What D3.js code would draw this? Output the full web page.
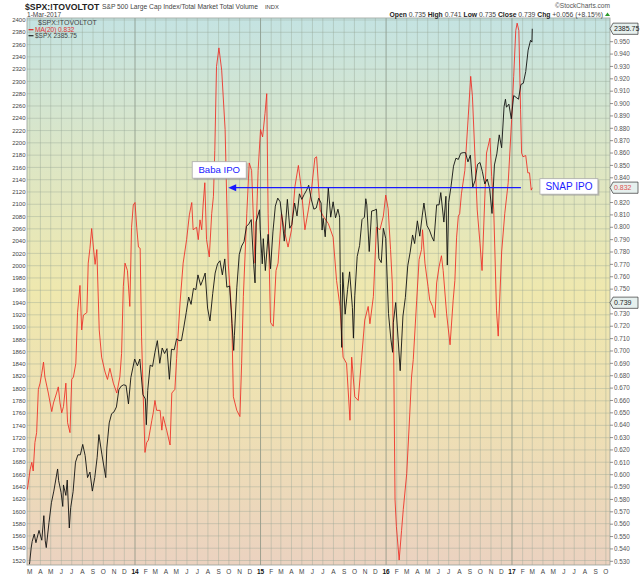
<!DOCTYPE html>
<meta charset="utf-8">
<head>
<script src="https://cdnjs.cloudflare.com/ajax/libs/d3/7.8.5/d3.min.js"></script>
<style>
body { margin:0; background:#fff; }
svg text { font-family: "Liberation Sans", Arial, sans-serif; }
</style>
</head>
<body>
<div id="chart"></div>
<script>

// S&P 500 closes (left scale), roughly weekly
var spx = [
["2013-02-28",1514],["2013-03-01",1518],["2013-03-05",1540],["2013-03-08",1551],["2013-03-14",1563],["2013-03-19",1549],
["2013-03-22",1556],["2013-03-28",1569],["2013-04-05",1553],["2013-04-11",1593],["2013-04-15",1552],["2013-04-18",1541],
["2013-04-26",1582],["2013-05-03",1614],["2013-05-10",1633],["2013-05-21",1669],["2013-05-24",1650],["2013-05-31",1631],
["2013-06-05",1608],["2013-06-07",1643],["2013-06-14",1626],["2013-06-18",1651],["2013-06-24",1573],["2013-06-28",1606],
["2013-07-05",1632],["2013-07-12",1680],["2013-07-19",1692],["2013-07-26",1692],["2013-08-02",1709],["2013-08-09",1691],
["2013-08-16",1655],["2013-08-23",1664],["2013-08-30",1633],["2013-09-06",1655],["2013-09-13",1688],["2013-09-18",1725],
["2013-09-27",1692],["2013-10-08",1655],["2013-10-11",1703],["2013-10-18",1744],["2013-10-25",1759],["2013-11-01",1762],
["2013-11-08",1770],["2013-11-15",1798],["2013-11-22",1804],["2013-11-29",1806],["2013-12-06",1805],["2013-12-13",1775],
["2013-12-20",1818],["2013-12-31",1848],
["2014-01-08",1837],["2014-01-15",1848],["2014-01-24",1790],["2014-01-31",1783],["2014-02-03",1741],["2014-02-07",1797],
["2014-02-14",1838],["2014-02-21",1836],["2014-02-28",1859],["2014-03-07",1878],["2014-03-14",1841],["2014-03-21",1866],
["2014-03-28",1857],["2014-04-04",1865],["2014-04-11",1815],["2014-04-17",1864],["2014-04-25",1863],["2014-05-02",1881],
["2014-05-09",1878],["2014-05-16",1878],["2014-05-23",1900],["2014-05-30",1924],["2014-06-06",1949],["2014-06-13",1937],
["2014-06-20",1963],["2014-06-27",1961],["2014-07-03",1985],["2014-07-11",1968],["2014-07-18",1978],["2014-07-24",1988],
["2014-07-31",1931],["2014-08-07",1910],["2014-08-15",1955],["2014-08-22",1988],["2014-08-29",2003],["2014-09-05",2008],
["2014-09-12",1985],["2014-09-19",2011],["2014-09-25",1965],["2014-10-03",1967],["2014-10-10",1906],["2014-10-15",1862],
["2014-10-17",1886],["2014-10-24",1964],["2014-10-31",2018],["2014-11-07",2032],["2014-11-14",2039],["2014-11-21",2064],
["2014-11-28",2068],["2014-12-05",2075],["2014-12-12",2002],["2014-12-16",1972],["2014-12-19",2071],["2014-12-29",2091],
["2014-12-31",2059],
["2015-01-06",2003],["2015-01-09",2044],["2015-01-15",1992],["2015-01-23",2051],["2015-01-30",1995],["2015-02-06",2055],
["2015-02-13",2097],["2015-02-20",2110],["2015-02-27",2104],["2015-03-06",2071],["2015-03-11",2040],["2015-03-13",2053],
["2015-03-20",2108],["2015-03-27",2061],["2015-04-02",2067],["2015-04-10",2102],["2015-04-17",2081],["2015-04-24",2117],
["2015-05-01",2108],["2015-05-08",2116],["2015-05-15",2123],["2015-05-21",2131],["2015-05-29",2107],["2015-06-05",2092],
["2015-06-12",2094],["2015-06-19",2110],["2015-06-26",2102],["2015-06-29",2058],["2015-07-02",2077],["2015-07-08",2047],
["2015-07-17",2127],["2015-07-24",2079],["2015-07-31",2104],["2015-08-07",2078],["2015-08-14",2092],["2015-08-19",2079],
["2015-08-21",1971],["2015-08-25",1867],["2015-08-28",1989],["2015-09-04",1921],["2015-09-11",1961],["2015-09-17",1990],
["2015-09-25",1932],["2015-09-28",1882],["2015-10-02",1951],["2015-10-09",2015],["2015-10-16",2033],["2015-10-23",2075],
["2015-10-30",2079],["2015-11-03",2109],["2015-11-06",2099],["2015-11-13",2023],["2015-11-20",2089],["2015-11-27",2090],
["2015-12-04",2092],["2015-12-11",2012],["2015-12-18",2005],["2015-12-24",2061],["2015-12-31",2044],
["2016-01-08",1922],["2016-01-15",1880],["2016-01-20",1859],["2016-01-22",1907],["2016-01-29",1940],["2016-02-05",1880],
["2016-02-11",1829],["2016-02-19",1918],["2016-02-26",1948],["2016-03-04",2000],["2016-03-11",2022],["2016-03-18",2050],
["2016-03-24",2036],["2016-04-01",2073],["2016-04-08",2048],["2016-04-15",2081],["2016-04-20",2102],["2016-04-29",2065],
["2016-05-06",2058],["2016-05-13",2047],["2016-05-19",2040],["2016-05-27",2099],["2016-06-03",2099],["2016-06-08",2119],
["2016-06-17",2071],["2016-06-23",2113],["2016-06-27",2001],["2016-07-01",2103],["2016-07-08",2130],["2016-07-15",2162],
["2016-07-22",2175],["2016-07-29",2173],["2016-08-05",2183],["2016-08-12",2184],["2016-08-19",2184],["2016-08-26",2169],
["2016-09-02",2180],["2016-09-09",2128],["2016-09-16",2139],["2016-09-23",2165],["2016-09-30",2168],["2016-10-07",2153],
["2016-10-14",2133],["2016-10-21",2141],["2016-10-28",2126],["2016-11-04",2085],["2016-11-11",2164],["2016-11-18",2182],
["2016-11-25",2213],["2016-12-02",2192],["2016-12-09",2259],["2016-12-13",2271],["2016-12-16",2258],["2016-12-23",2263],
["2016-12-30",2239],
["2017-01-06",2277],["2017-01-13",2274],["2017-01-20",2271],["2017-01-27",2295],["2017-02-03",2297],["2017-02-10",2316],
["2017-02-17",2351],["2017-02-24",2367],["2017-02-28",2364],["2017-03-01",2385.75]
];

// MA(20) of $SPX:!TOVOLTOT (right scale)
var ma20 = [
["2013-02-22",0.588],["2013-03-02",0.604],["2013-03-07",0.610],["2013-03-11",0.603],["2013-03-16",0.626],["2013-03-21",0.634],
["2013-03-26",0.669],["2013-03-31",0.674],["2013-04-05",0.682],["2013-04-10",0.691],["2013-04-14",0.679],["2013-04-24",0.666],
["2013-05-04",0.651],["2013-05-09",0.658],["2013-05-18",0.666],["2013-05-23",0.671],["2013-05-28",0.658],["2013-06-02",0.650],
["2013-06-07",0.655],["2013-06-14",0.674],["2013-06-19",0.642],["2013-06-26",0.634],["2013-07-01",0.677],["2013-07-06",0.679],
["2013-07-13",0.690],["2013-07-18",0.731],["2013-07-25",0.753],["2013-07-30",0.717],["2013-08-04",0.729],["2013-08-14",0.731],
["2013-08-18",0.771],["2013-08-23",0.783],["2013-08-28",0.799],["2013-09-02",0.784],["2013-09-07",0.770],["2013-09-12",0.782],
["2013-09-19",0.717],["2013-09-26",0.695],["2013-10-06",0.683],["2013-10-13",0.677],["2013-10-20",0.686],["2013-10-30",0.674],
["2013-11-09",0.666],["2013-11-18",0.679],["2013-11-23",0.698],["2013-11-28",0.752],["2013-12-03",0.771],["2013-12-10",0.765],
["2013-12-17",0.736],["2013-12-22",0.800],["2013-12-27",0.818],["2014-01-01",0.820],["2014-01-06",0.800],["2014-01-11",0.784],
["2014-01-16",0.783],["2014-01-20",0.712],["2014-01-25",0.663],["2014-01-30",0.618],["2014-02-04",0.626],["2014-02-09",0.628],
["2014-02-14",0.636],["2014-02-19",0.644],["2014-02-23",0.650],["2014-02-28",0.660],["2014-03-05",0.652],["2014-03-15",0.652],
["2014-03-20",0.636],["2014-03-24",0.647],["2014-04-03",0.636],["2014-04-13",0.624],["2014-04-18",0.666],["2014-04-27",0.669],
["2014-05-02",0.694],["2014-05-12",0.739],["2014-05-21",0.771],["2014-05-31",0.790],["2014-06-08",0.810],["2014-06-15",0.820],
["2014-06-19",0.798],["2014-06-29",0.800],["2014-07-04",0.790],["2014-07-09",0.806],["2014-07-14",0.798],["2014-07-18",0.818],
["2014-07-23",0.836],["2014-07-28",0.790],["2014-08-05",0.776],["2014-08-12",0.811],["2014-08-17",0.825],["2014-08-21",0.862],
["2014-08-26",0.930],["2014-09-02",0.945],["2014-09-10",0.927],["2014-09-20",0.879],["2014-09-29",0.771],["2014-10-09",0.731],
["2014-10-14",0.663],["2014-10-24",0.652],["2014-11-02",0.647],["2014-11-07",0.690],["2014-11-12",0.744],["2014-11-22",0.811],
["2014-11-29",0.852],["2014-12-06",0.846],["2014-12-16",0.771],["2014-12-25",0.846],["2015-01-01",0.879],["2015-01-07",0.873],
["2015-01-14",0.892],["2015-01-19",0.908],["2015-01-23",0.811],["2015-01-30",0.723],["2015-02-07",0.720],["2015-02-15",0.765],
["2015-02-21",0.771],["2015-03-03",0.811],["2015-03-13",0.795],["2015-03-22",0.784],["2015-04-01",0.798],["2015-04-11",0.833],
["2015-04-21",0.850],["2015-04-30",0.830],["2015-05-10",0.798],["2015-05-20",0.814],["2015-05-29",0.830],["2015-06-08",0.856],
["2015-06-13",0.857],["2015-06-23",0.814],["2015-07-02",0.809],["2015-07-17",0.803],["2015-07-31",0.792],["2015-08-10",0.757],
["2015-08-20",0.736],["2015-08-29",0.695],["2015-09-08",0.690],["2015-09-18",0.644],["2015-09-23",0.695],["2015-10-02",0.663],
["2015-10-12",0.660],["2015-10-22",0.695],["2015-10-31",0.725],["2015-11-10",0.736],["2015-11-15",0.722],["2015-11-25",0.744],
["2015-12-04",0.800],["2015-12-14",0.798],["2015-12-24",0.809],["2015-12-31",0.826],["2016-01-07",0.815],["2016-01-14",0.782],
["2016-01-19",0.755],["2016-01-23",0.701],["2016-01-27",0.580],["2016-01-31",0.558],["2016-02-08",0.531],["2016-02-15",0.555],
["2016-02-20",0.572],["2016-03-01",0.601],["2016-03-10",0.650],["2016-03-15",0.679],["2016-03-20",0.693],["2016-03-30",0.741],
["2016-04-06",0.774],["2016-04-13",0.782],["2016-04-16",0.798],["2016-04-23",0.771],["2016-05-02",0.752],["2016-05-07",0.741],
["2016-05-15",0.736],["2016-05-22",0.727],["2016-05-27",0.755],["2016-06-03",0.768],["2016-06-10",0.777],["2016-06-15",0.765],
["2016-06-25",0.730],["2016-07-05",0.705],["2016-07-14",0.741],["2016-07-19",0.757],["2016-07-24",0.792],["2016-07-29",0.809],
["2016-08-02",0.811],["2016-08-07",0.827],["2016-08-17",0.846],["2016-08-27",0.890],["2016-09-03",0.922],["2016-09-08",0.906],
["2016-09-15",0.860],["2016-09-22",0.814],["2016-09-30",0.787],["2016-10-06",0.765],["2016-10-12",0.809],["2016-10-19",0.860],
["2016-10-29",0.872],["2016-11-03",0.841],["2016-11-09",0.814],["2016-11-17",0.733],["2016-11-22",0.712],["2016-12-02",0.780],
["2016-12-11",0.811],["2016-12-21",0.836],["2016-12-31",0.887],["2017-01-06",0.922],["2017-01-12",0.959],["2017-01-16",0.965],
["2017-01-21",0.959],["2017-01-26",0.895],["2017-01-29",0.860],["2017-02-02",0.857],["2017-02-10",0.858],["2017-02-16",0.844],
["2017-02-21",0.844],["2017-02-26",0.830],["2017-03-01",0.832]
];

var leftTicks = d3.range(1520, 2401, 20);
var rightTicks = d3.range(53, 97).map(function(d){ return d/100; });
var monthLetters = ['J','F','M','A','M','J','J','A','S','O','N','D'];
var ohlc = [["Open","0.735"],["High","0.741"],["Low","0.735"],["Close","0.739"],["Chg","+0.056 (+8.15%)"]];
var lastSpx = 2385.75, lastMa = 0.832, lastRatio = 0.739;
var arrowFrom = "2017-01-27", arrowTo = "2014-09-29";

var width = 640, height = 576;
var pL = 27, pR = 610, pT = 18, pB = 565;
var parse = d3.timeParse("%Y-%m-%d");

var x = d3.scaleTime().domain([new Date(2013,1,21), new Date(2017,9,13)]).range([pL, pR]);
var yL = d3.scaleLinear().domain([1520, 2400]).range([560.5, 20]);
var yR = d3.scaleLinear().domain([0.53, 0.95]).range([561.3, 41.7]);

var svg = d3.select('#chart').append('svg').attr('width', width).attr('height', height);
var defs = svg.append('defs');

var grad = defs.append('linearGradient').attr('id','bg')
  .attr('x1',0).attr('y1',0).attr('x2',0).attr('y2',1);
grad.append('stop').attr('offset','0%').attr('stop-color','#c4e3e2');
grad.append('stop').attr('offset','25%').attr('stop-color','#dce6c6');
grad.append('stop').attr('offset','50%').attr('stop-color','#efe8ae');
grad.append('stop').attr('offset','75%').attr('stop-color','#eedfb4');
grad.append('stop').attr('offset','100%').attr('stop-color','#ebd2c0');

defs.append('clipPath').attr('id','clip').append('rect')
  .attr('x',pL).attr('y',pT).attr('width',pR-pL).attr('height',pB-pT);

svg.append('rect').attr('x',pL).attr('y',pT).attr('width',pR-pL).attr('height',pB-pT)
  .style('fill','url(#bg)');

// grid
var months = d3.timeMonth.range(new Date(2013,2,1), new Date(2017,9,2));
svg.append('g').selectAll('line').data(months).enter().append('line')
  .attr('x1', function(d){ return x(d); }).attr('x2', function(d){ return x(d); })
  .attr('y1', pT).attr('y2', pB)
  .style('stroke', function(d){ return d.getMonth() === 0 ? '#7d8a7a' : '#93a293'; })
  .style('stroke-opacity', function(d){ return d.getMonth() === 0 ? 0.7 : 0.38; })
  .style('stroke-width', 1);

svg.append('g').selectAll('line').data(leftTicks).enter().append('line')
  .attr('x1', pL).attr('x2', pR)
  .attr('y1', function(d){ return yL(d); }).attr('y2', function(d){ return yL(d); })
  .style('stroke', '#93a293').style('stroke-opacity', 0.38);

svg.append('rect').attr('x',pL).attr('y',pT).attr('width',pR-pL).attr('height',pB-pT)
  .style('fill','none').style('stroke','#9aa09a').style('stroke-width',0.8);

// series
var redLine = d3.line().x(function(d){ return x(parse(d[0])); }).y(function(d){ return yR(d[1]); });
var blackLine = d3.line().x(function(d){ return x(parse(d[0])); }).y(function(d){ return yL(d[1]); });

svg.append('path').datum(ma20).attr('d', redLine).attr('clip-path','url(#clip)')
  .style('fill','none').style('stroke','#ee2a22').style('stroke-width',0.85);
svg.append('path').datum(spx).attr('d', blackLine).attr('clip-path','url(#clip)')
  .style('fill','none').style('stroke','#111').style('stroke-width',0.9);

// left axis labels
svg.append('g').selectAll('text').data(leftTicks).enter().append('text')
  .attr('x', 25.5).attr('y', function(d){ return yL(d) + 2.2; })
  .attr('text-anchor','end').style('font-size','6px').style('fill','#444')
  .text(function(d){ return d; });

// right tag boxes
var tags = [
  {y: yL(lastSpx), text: d3.format('.2f')(lastSpx), color: '#222'},
  {y: yR(lastMa), text: d3.format('.3f')(lastMa), color: '#e05050'},
  {y: yR(lastRatio), text: d3.format('.3f')(lastRatio), color: '#222'}
];

svg.append('g').selectAll('g').data(rightTicks.filter(function(t){
    return tags.every(function(g){ return Math.abs(yR(t) - g.y) > 7; }) && t <= 0.95;
  })).enter().append('g').each(function(d){
    var g = d3.select(this);
    g.append('line').attr('x1', pR).attr('x2', pR+3).attr('y1', yR(d)).attr('y2', yR(d))
      .style('stroke','#666').style('stroke-width',0.7);
    g.append('text').attr('x', pR+4).attr('y', yR(d)+2.2)
      .style('font-size','6.3px').style('fill','#555').text(d3.format('.3f')(d));
  });

tags.forEach(function(t){
  var h = 5.6;
  svg.append('path')
    .attr('d', 'M'+pR+','+t.y+' L'+(pR+3)+','+(t.y-h)+' L638,'+(t.y-h)+' L638,'+(t.y+h)+' L'+(pR+3)+','+(t.y+h)+' Z')
    .style('fill','#e6f0ee').style('stroke','#333').style('stroke-width',0.7);
  svg.append('text').attr('x', pR+4).attr('y', t.y+2.4)
    .style('font-size','7px').style('fill', t.color).text(t.text);
});

// x axis labels
svg.append('g').selectAll('text').data(months).enter().append('text')
  .attr('x', function(d){ return x(d); }).attr('y', 574)
  .attr('text-anchor','middle')
  .style('font-size', '6.5px')
  .style('font-weight', function(d){ return d.getMonth() === 0 ? 'bold' : 'normal'; })
  .style('fill', function(d){ return d.getMonth() === 0 ? '#111' : '#444'; })
  .text(function(d){ return d.getMonth() === 0 ? d3.timeFormat('%y')(d) : monthLetters[d.getMonth()]; });

// header
svg.append('text').attr('x', 25).attr('y', 9.5).style('font-size','8.7px').style('font-weight','bold')
  .style('fill','#222').text('$SPX:!TOVOLTOT');
svg.append('text').attr('x', 102).attr('y', 9.2).style('font-size','6.7px').style('fill','#444')
  .text('S&P 500 Large Cap Index/Total Market Total Volume');
svg.append('text').attr('x', 265).attr('y', 9.2).style('font-size','5.8px').style('fill','#444').text('INDX');
svg.append('text').attr('x', 27).attr('y', 16.5).style('font-size','6.6px').style('fill','#444').text('1-Mar-2017');
svg.append('text').attr('x', 610).attr('y', 8).attr('text-anchor','end').style('font-size','6.6px')
  .style('fill','#555').text('\u00a9StockCharts.com');

var ohlcText = svg.append('text').attr('x', 603).attr('y', 16.6).attr('text-anchor','end')
  .style('font-size','6.8px').style('fill','#444');
ohlc.forEach(function(p, i){
  ohlcText.append('tspan').style('font-weight','bold').style('fill','#222').text((i ? ' ' : '') + p[0] + ' ');
  ohlcText.append('tspan').text(p[1]);
});
svg.append('path').attr('d','M605,16 L607.5,12.5 L610,16 Z').style('fill','#2a9a2a');

// legend
svg.append('text').attr('x', 38).attr('y', 24.8).style('font-size','7px').style('fill','#444').text('$SPX:!TOVOLTOT');
svg.append('line').attr('x1',28.5).attr('x2',33.5).attr('y1',29.7).attr('y2',29.7).style('stroke','#e02020').style('stroke-width',1.2);
svg.append('text').attr('x', 35).attr('y', 31.8).style('font-size','6.5px').style('fill','#e03030').text('MA(20) ' + d3.format('.3f')(lastMa));
svg.append('line').attr('x1',28.5).attr('x2',33.5).attr('y1',35.7).attr('y2',35.7).style('stroke','#222').style('stroke-width',1.2);
svg.append('text').attr('x', 35).attr('y', 37.8).style('font-size','6.5px').style('fill','#444').text('$SPX ' + d3.format('.2f')(lastSpx));

// annotations
var ay = yR(lastMa);
var ax1 = x(parse(arrowFrom)), ax2 = x(parse(arrowTo));
svg.append('line').attr('x1', ax1).attr('x2', ax2 + 7).attr('y1', ay).attr('y2', ay)
  .style('stroke','#1a1aff').style('stroke-width',1.3);
svg.append('path').attr('d','M'+ax2+','+ay+' L'+(ax2+8)+','+(ay-3.5)+' L'+(ax2+8)+','+(ay+3.5)+' Z')
  .style('fill','#1a1aff');

function labelBox(bx, by, bw, bh, txt, fs) {
  svg.append('rect').attr('x', bx+1.5).attr('y', by+1.5).attr('width', bw).attr('height', bh)
    .style('fill','#999').style('fill-opacity',0.6);
  svg.append('rect').attr('x', bx).attr('y', by).attr('width', bw).attr('height', bh)
    .style('fill','#fff').style('stroke','#aaa').style('stroke-width',0.8);
  svg.append('text').attr('x', bx + bw/2).attr('y', by + bh/2 + fs*0.36).attr('text-anchor','middle')
    .style('font-size', fs+'px').style('fill','#1a1aff').text(txt);
}
labelBox(ax2 - 36, ay - 26, 54, 16.5, 'Baba IPO', 9.6);
labelBox(ax1 + 19, ay - 9, 58, 15.5, 'SNAP IPO', 10);

</script>
</body>
